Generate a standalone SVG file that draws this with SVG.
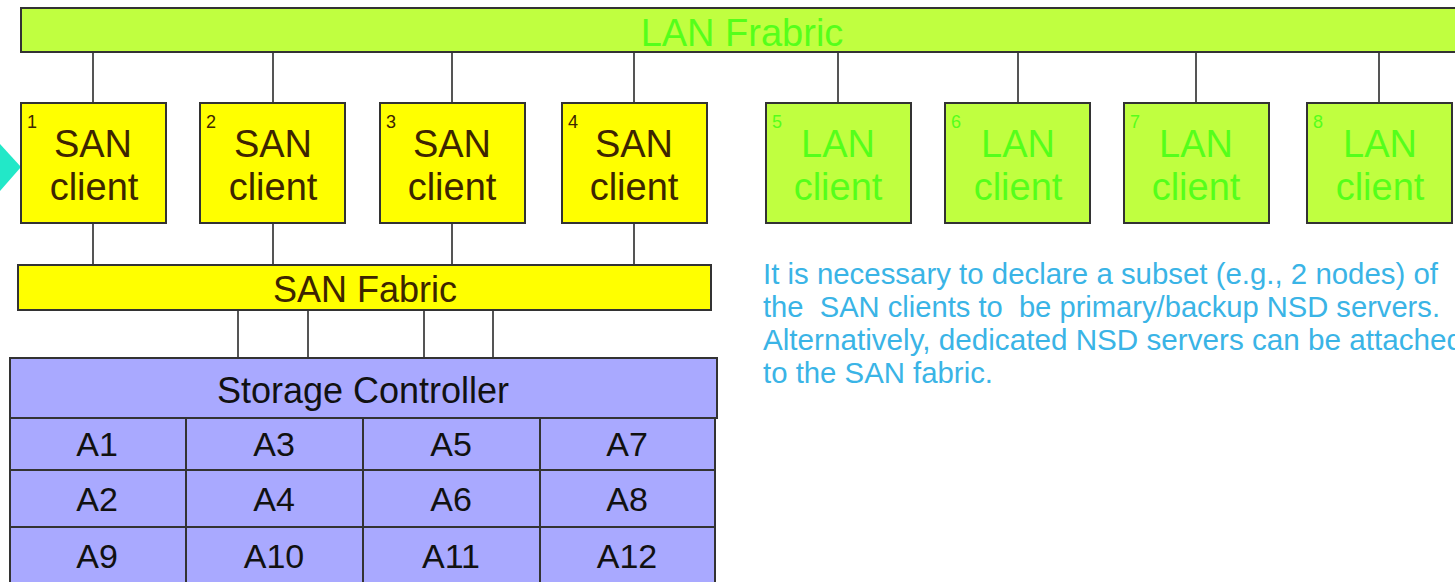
<svg xmlns="http://www.w3.org/2000/svg" width="1455" height="582" viewBox="0 0 1455 582">
<defs>
<style>
.conn{stroke:#555;stroke-width:2;fill:none}
.box{stroke:#333;stroke-width:2}
.san{fill:#ffff00}
.lan{fill:#c0ff40}
.sto{fill:#a9a9ff}
.t{font-family:"Liberation Sans",Arial,sans-serif;text-anchor:middle}
.st{fill:#3d2500}
.lt{fill:#55ff1a}
.big{font-size:38px}
.num{font-family:"Liberation Sans",Arial,sans-serif;font-size:18px}
.dt{font-family:"Liberation Sans",Arial,sans-serif;font-size:29px;fill:#3ab4e6;white-space:pre}
.cell{font-family:"Liberation Sans",Arial,sans-serif;font-size:34px;fill:#111;text-anchor:middle}
</style>
</defs>
<polygon points="0,144 21,167 0,191" fill="#22e8c8"/>
<g id="connectors">
<line class="conn" x1="93" y1="52" x2="93" y2="103"/>
<line class="conn" x1="273" y1="52" x2="273" y2="103"/>
<line class="conn" x1="452" y1="52" x2="452" y2="103"/>
<line class="conn" x1="634" y1="52" x2="634" y2="103"/>
<line class="conn" x1="838" y1="52" x2="838" y2="103"/>
<line class="conn" x1="1018" y1="52" x2="1018" y2="103"/>
<line class="conn" x1="1196" y1="52" x2="1196" y2="103"/>
<line class="conn" x1="1379" y1="52" x2="1379" y2="103"/>
<line class="conn" x1="93" y1="223" x2="93" y2="265"/>
<line class="conn" x1="273" y1="223" x2="273" y2="265"/>
<line class="conn" x1="452" y1="223" x2="452" y2="265"/>
<line class="conn" x1="634" y1="223" x2="634" y2="265"/>
<line class="conn" x1="238" y1="310" x2="238" y2="358"/>
<line class="conn" x1="308" y1="310" x2="308" y2="358"/>
<line class="conn" x1="424" y1="310" x2="424" y2="358"/>
<line class="conn" x1="493" y1="310" x2="493" y2="358"/>
</g>
<g id="lan-fabric">
<rect class="box lan" x="21" y="8" width="1450" height="44"/>
<text class="t lt" x="742" y="46" font-size="38">LAN Frabric</text>
</g>
<g id="san1">
<rect class="box san" x="21" y="103" width="145" height="120"/>
<text class="num st" x="27" y="128">1</text>
<text class="t st big" x="93" y="157">SAN</text>
<text class="t st big" x="94" y="200">client</text>
</g>
<g id="san2">
<rect class="box san" x="200" y="103" width="145" height="120"/>
<text class="num st" x="206" y="128">2</text>
<text class="t st big" x="273" y="157">SAN</text>
<text class="t st big" x="273" y="200">client</text>
</g>
<g id="san3">
<rect class="box san" x="380" y="103" width="145" height="120"/>
<text class="num st" x="386" y="128">3</text>
<text class="t st big" x="452" y="157">SAN</text>
<text class="t st big" x="452" y="200">client</text>
</g>
<g id="san4">
<rect class="box san" x="562" y="103" width="145" height="120"/>
<text class="num st" x="568" y="128">4</text>
<text class="t st big" x="634" y="157">SAN</text>
<text class="t st big" x="634" y="200">client</text>
</g>
<g id="lan5">
<rect class="box lan" x="766" y="103" width="145" height="120"/>
<text class="num lt" x="772" y="128">5</text>
<text class="t lt big" x="838" y="157">LAN</text>
<text class="t lt big" x="838" y="200">client</text>
</g>
<g id="lan6">
<rect class="box lan" x="945" y="103" width="145" height="120"/>
<text class="num lt" x="951" y="128">6</text>
<text class="t lt big" x="1018" y="157">LAN</text>
<text class="t lt big" x="1018" y="200">client</text>
</g>
<g id="lan7">
<rect class="box lan" x="1124" y="103" width="145" height="120"/>
<text class="num lt" x="1130" y="128">7</text>
<text class="t lt big" x="1196" y="157">LAN</text>
<text class="t lt big" x="1196" y="200">client</text>
</g>
<g id="lan8">
<rect class="box lan" x="1307" y="103" width="145" height="120"/>
<text class="num lt" x="1313" y="128">8</text>
<text class="t lt big" x="1380" y="157">LAN</text>
<text class="t lt big" x="1380" y="200">client</text>
</g>
<g id="san-fabric">
<rect class="box san" x="18" y="265" width="693" height="45"/>
<text class="t st" x="365" y="302" font-size="36">SAN Fabric</text>
</g>
<g id="storage-controller">
<rect class="box sto" x="10" y="358" width="707" height="60"/>
<text class="t" x="363" y="403" font-size="36" fill="#111">Storage Controller</text>
<rect class="box sto" x="10" y="418" width="705" height="170"/>
<line class="box" x1="10" y1="470" x2="715" y2="470"/>
<line class="box" x1="10" y1="527" x2="715" y2="527"/>
<line class="box" x1="186" y1="418" x2="186" y2="590"/>
<line class="box" x1="363" y1="418" x2="363" y2="590"/>
<line class="box" x1="540" y1="418" x2="540" y2="590"/>
<text class="cell" x="97" y="456">A1</text>
<text class="cell" x="274" y="456">A3</text>
<text class="cell" x="451" y="456">A5</text>
<text class="cell" x="627" y="456">A7</text>
<text class="cell" x="97" y="511">A2</text>
<text class="cell" x="274" y="511">A4</text>
<text class="cell" x="451" y="511">A6</text>
<text class="cell" x="627" y="511">A8</text>
<text class="cell" x="97" y="568">A9</text>
<text class="cell" x="274" y="568">A10</text>
<text class="cell" x="451" y="568">A11</text>
<text class="cell" x="627" y="568">A12</text>
</g>
<g id="note">
<text class="dt" x="763" y="284" textLength="675" lengthAdjust="spacingAndGlyphs">It is necessary to declare a subset (e.g., 2 nodes) of</text>
<text class="dt" x="763" y="317" textLength="677" lengthAdjust="spacingAndGlyphs">the  SAN clients to  be primary/backup NSD servers.</text>
<text class="dt" x="763" y="350" textLength="700" lengthAdjust="spacingAndGlyphs">Alternatively, dedicated NSD servers can be attached</text>
<text class="dt" x="763" y="383" textLength="230" lengthAdjust="spacingAndGlyphs">to the SAN fabric.</text>
</g>
</svg>
